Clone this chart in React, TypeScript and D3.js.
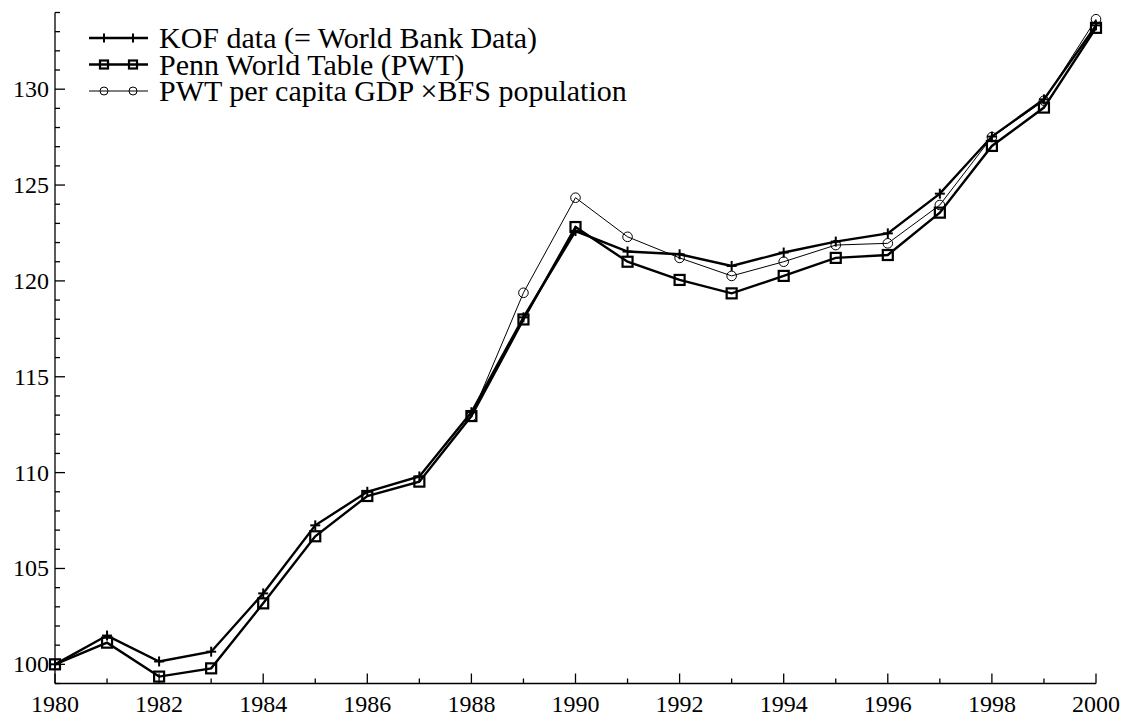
import React from "react";
import * as d3 from "d3";

// Real GDP indices, 1980 = 100
const years: number[] = [1980, 1981, 1982, 1983, 1984, 1985, 1986, 1987, 1988, 1989, 1990, 1991, 1992, 1993, 1994, 1995, 1996, 1997, 1998, 1999, 2000];

const kofValues: number[] = [100, 101.5, 100.15, 100.66, 103.7, 107.25, 109.0, 109.8, 113.15, 118.1, 122.6, 121.53, 121.39, 120.78, 121.48, 122.05, 122.48, 124.55, 127.53, 129.47, 133.33];

const pwtValues: number[] = [100, 101.13, 99.36, 99.79, 103.18, 106.68, 108.78, 109.53, 112.95, 117.99, 122.81, 121.0, 120.05, 119.35, 120.26, 121.2, 121.35, 123.56, 127.04, 129.04, 133.2];

const bfsYears: number[] = [1988, 1989, 1990, 1991, 1992, 1993, 1994, 1995, 1996, 1997, 1998, 1999, 2000];
const bfsValues: number[] = [112.95, 119.38, 124.34, 122.3, 121.2, 120.26, 121.0, 121.87, 121.96, 123.96, 127.5, 129.4, 133.65];

const legendLabels: string[] = [
  "KOF data (= World Bank Data)",
  "Penn World Table (PWT)",
  "PWT per capita GDP \u00D7BFS population",
];

const yMajorTicks: number[] = [100, 105, 110, 115, 120, 125, 130];
const xLabelTicks: number[] = [1980, 1982, 1984, 1986, 1988, 1990, 1992, 1994, 1996, 1998, 2000];

const W = 1126;
const H = 715;
const FONT = '"Liberation Serif"';

type Pt = { x: number; y: number };

function Cross({ x, y, s }: { x: number; y: number; s: number }) {
  return (
    <g stroke="#000" strokeWidth={2}>
      <line x1={x - s} y1={y} x2={x + s} y2={y} />
      <line x1={x} y1={y - s} x2={x} y2={y + s} />
    </g>
  );
}

function Square({ x, y, s }: { x: number; y: number; s: number }) {
  return <rect x={x - s} y={y - s} width={2 * s} height={2 * s} fill="none" stroke="#000" strokeWidth={2.2} />;
}

function Circle({ x, y, r }: { x: number; y: number; r: number }) {
  return <circle cx={x} cy={y} r={r} fill="none" stroke="#000" strokeWidth={1} />;
}

export default function App() {
  const x = d3.scaleLinear().domain([1980, 2000]).range([55, 1096]);
  const y = d3.scaleLinear().domain([99, 134]).range([683.5, 12.5]);

  const line = d3
    .line<Pt>()
    .x((d) => d.x)
    .y((d) => d.y);

  const kofPts: Pt[] = years.map((yr, i) => ({ x: x(yr), y: y(kofValues[i]) }));
  const pwtPts: Pt[] = years.map((yr, i) => ({ x: x(yr), y: y(pwtValues[i]) }));
  const bfsPts: Pt[] = bfsYears.map((yr, i) => ({ x: x(yr), y: y(bfsValues[i]) }));

  const yMinor = d3.range(99, 135, 1).filter((v) => !yMajorTicks.includes(v));
  const xAll = d3.range(1980, 2001, 1);

  const x0 = x(1980);
  const yBase = y(99);

  const legendY = [38, 64.5, 91];
  const lx1 = 89;
  const lx2 = 148;
  const lm = [104, 133];
  const tickStyle = { fontFamily: FONT, fontSize: 24 };
  const legendStyle = { fontFamily: FONT, fontSize: 30 };

  return (
    <svg width={W} height={H} style={{ display: "block", position: "absolute", left: 0, top: 0, background: "#fff" }}>
      <rect x={0} y={0} width={W} height={H} fill="#fff" />
      {/* axes */}
      <g stroke="#000" strokeWidth={1.3} fill="none">
        <line x1={x0} y1={y(134)} x2={x0} y2={yBase} />
        <line x1={x0} y1={yBase} x2={x(2000)} y2={yBase} />
        {yMajorTicks.map((v) => (
          <line key={"ym" + v} x1={x0} y1={y(v)} x2={x0 + 10} y2={y(v)} />
        ))}
        {yMinor.map((v) => (
          <line key={"yn" + v} x1={x0} y1={y(v)} x2={x0 + 5} y2={y(v)} />
        ))}
        {xAll.map((v) => (
          <line key={"x" + v} x1={x(v)} y1={yBase} x2={x(v)} y2={yBase - (xLabelTicks.includes(v) ? 10 : 5)} />
        ))}
      </g>
      {yMajorTicks.map((v) => (
        <text key={"yl" + v} x={x0 - 6} y={y(v) + 8} textAnchor="end" fill="#000" style={tickStyle}>
          {v}
        </text>
      ))}
      {xLabelTicks.map((v) => (
        <text key={"xl" + v} x={x(v)} y={yBase + 28} textAnchor="middle" fill="#000" style={tickStyle}>
          {v}
        </text>
      ))}

      {/* series */}
      <path d={line(bfsPts) || ""} fill="none" stroke="#000" strokeWidth={1} />
      {bfsPts.map((p, i) => (
        <Circle key={"c" + i} x={p.x} y={p.y} r={4.8} />
      ))}
      <path d={line(pwtPts) || ""} fill="none" stroke="#000" strokeWidth={2.4} strokeLinejoin="miter" />
      {pwtPts.map((p, i) => (
        <Square key={"s" + i} x={p.x} y={p.y} s={5} />
      ))}
      <path d={line(kofPts) || ""} fill="none" stroke="#000" strokeWidth={2.4} strokeLinejoin="miter" />
      {kofPts.map((p, i) => (
        <Cross key={"k" + i} x={p.x} y={p.y} s={5} />
      ))}

      {/* legend */}
      <line x1={lx1} y1={legendY[0]} x2={lx2} y2={legendY[0]} stroke="#000" strokeWidth={2.4} />
      {lm.map((m) => (
        <Cross key={"lk" + m} x={m} y={legendY[0]} s={4.5} />
      ))}
      <line x1={lx1} y1={legendY[1]} x2={lx2} y2={legendY[1]} stroke="#000" strokeWidth={2.4} />
      {lm.map((m) => (
        <Square key={"ls" + m} x={m} y={legendY[1]} s={4} />
      ))}
      <line x1={lx1} y1={legendY[2]} x2={lx2} y2={legendY[2]} stroke="#000" strokeWidth={1} />
      {lm.map((m) => (
        <Circle key={"lc" + m} x={m} y={legendY[2]} r={4} />
      ))}
      {legendLabels.map((t, i) => (
        <text key={"lt" + i} x={159} y={legendY[i] + 10} fill="#000" style={legendStyle}>
          {t}
        </text>
      ))}
    </svg>
  );
}
